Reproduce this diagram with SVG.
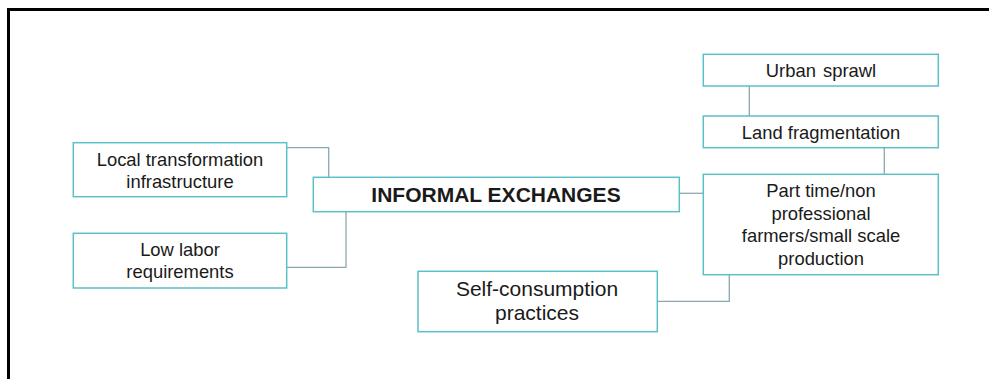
<svg xmlns="http://www.w3.org/2000/svg" width="989" height="379" viewBox="0 0 989 379">
<style>
.box{fill:#ffffff;stroke:#5cc0c8;stroke-width:1.5}
.con{fill:none;stroke:#8aa8b0;stroke-width:1.3}
text{font-family:"Liberation Sans",Arial,sans-serif;fill:#1a1a1a;text-anchor:middle}
.t{font-size:18.4px}
.big{font-size:21px}
.title{font-size:21px;font-weight:bold}
</style>
<rect width="989" height="379" fill="#ffffff"/>
<path d="M8.5,379 V9.5 H989" fill="none" stroke="#000" stroke-width="3"/>
<g id="connectors">
<path class="con" d="M286.7,147.7 H328.7 V177.3"/>
<path class="con" d="M346,211.7 V267.3 H286.7"/>
<path class="con" d="M679.3,193.3 H703.3"/>
<path class="con" d="M657.3,301.3 H729.3 V274.7"/>
<path class="con" d="M749.3,86 V116"/>
<path class="con" d="M884.3,147.7 V174.3"/>
</g>
<g id="local">
<rect class="box" x="73.3" y="142.7" width="213.4" height="54"/>
<text class="t" x="180" y="166">Local transformation</text>
<text class="t" x="180" y="188">infrastructure</text>
</g>
<g id="labor">
<rect class="box" x="73.3" y="233.3" width="213.4" height="54.7"/>
<text class="t" x="180" y="256">Low labor</text>
<text class="t" x="180" y="278">requirements</text>
</g>
<g id="informal">
<rect class="box" x="313.3" y="177.3" width="366" height="34.4"/>
<text class="title" x="496" y="201.5">INFORMAL EXCHANGES</text>
</g>
<g id="self">
<rect class="box" x="418" y="271.3" width="239.3" height="60.4"/>
<text class="big" x="537" y="296">Self-consumption</text>
<text class="big" x="537" y="320">practices</text>
</g>
<g id="urban">
<rect class="box" x="703.3" y="54.3" width="235" height="31.7"/>
<text class="t" x="821" y="77" word-spacing="2">Urban sprawl</text>
</g>
<g id="land">
<rect class="box" x="703.3" y="116" width="235" height="31.7"/>
<text class="t" x="821" y="138.5">Land fragmentation</text>
</g>
<g id="parttime">
<rect class="box" x="703.3" y="174.3" width="235" height="100.4"/>
<text class="t" x="821" y="197">Part time/non</text>
<text class="t" x="821" y="219.5">professional</text>
<text class="t" x="821" y="242">farmers/small scale</text>
<text class="t" x="821" y="264.5">production</text>
</g>
</svg>
